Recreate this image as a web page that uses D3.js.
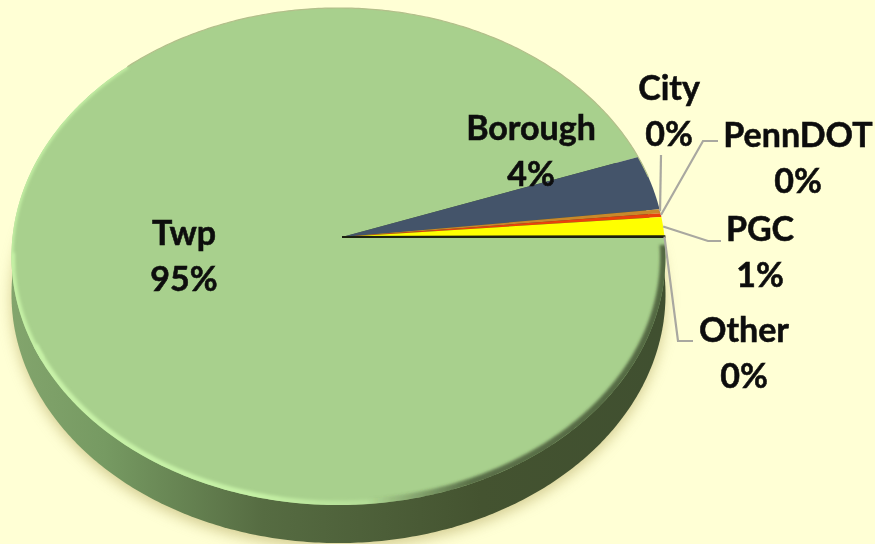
<!DOCTYPE html>
<html>
<head>
<meta charset="utf-8">
<script src="https://cdn.jsdelivr.net/npm/d3@7"></script>
<style>
  html, body { margin: 0; padding: 0; background: #ffffd5; overflow: hidden; }
  text { font-family: Lato, "Open Sans", sans-serif; font-weight: 700; font-size: 34px; fill: #0a0a0a; stroke: #0a0a0a; stroke-width: 0.5px; }
</style>
</head>
<body>
<script>
const categories = ['Twp', 'Borough', 'City', 'PennDOT', 'PGC', 'Other'];
const shares = [94.6, 3.6, 0.25, 0.25, 1.25, 0.05];
const shareLabels = ['95%', '4%', '0%', '0%', '1%', '0%'];
const colors = ['#a8d08d', '#44546a', '#c9892a', '#e8420c', '#ffff00', '#1c2010'];

const width = 875, height = 544;

// label centres and leader elbows, by category
const labelX = [184, 531, 669, 798, 760, 744];
const labelY = [245, 140, 100, 147, 241, 342];
const lineGap = 46;
const leaderStart = [null, null, [661, 155], [718, 141], [721, 241], [693, 341]];
const leaderElbow = [null, null, null, [703, 141], [708, 241], [678, 341]];

// the pie is seen in perspective, so the apex sits above the middle of the rim
const cx = 338.5, cy = 237, rimX = 326, rimY = 247, tilt = -0.0785, depth = 38;
const apex = [342, 237];

function rim(a) {
  const u = Math.sin(a), v = -Math.cos(a), w = 1 + tilt * v;
  return [cx + rimX * u / w, cy + rimY * v / w];
}

function sampled(a0, a1) {
  const n = Math.max(2, Math.ceil(Math.abs(a1 - a0) * 90));
  return d3.range(n + 1).map(i => rim(a0 + (a1 - a0) * i / n));
}

const svg = d3.select('body').append('svg')
  .attr('width', width)
  .attr('height', height)
  .style('display', 'block');

const defs = svg.append('defs');

const blur = (id, dev) => defs.append('filter')
  .attr('id', id)
  .attr('x', '-10%').attr('y', '-10%').attr('width', '120%').attr('height', '120%')
  .append('feGaussianBlur').attr('stdDeviation', dev);
blur('soft8', 7);
blur('soft2', 1.6);
blur('soft05', 0.6);
blur('soft03', 0.35);

const gradient = (id, stops) => defs.append('linearGradient')
  .attr('id', id)
  .attr('gradientUnits', 'userSpaceOnUse')
  .attr('x1', 0).attr('x2', width).attr('y1', 0).attr('y2', 0)
  .selectAll('stop').data(stops).join('stop')
  .attr('offset', d => d[0])
  .attr('stop-color', d => d[1])
  .attr('stop-opacity', d => d[2] === undefined ? 1 : d[2]);

gradient('sideFill', [[0, '#84a66e'], [0.12, '#769a62'], [0.3, '#566c42'], [0.55, '#445330'], [0.8, '#3f4f30'], [1, '#3f4f30']]);
gradient('bevel', [[0, '#c8f2a8'], [0.3, '#c4f0a4'], [0.42, '#bce69e', 0.6], [0.5, '#a8d08d', 0]]);
gradient('bevelDark', [[0.42, '#3f4f30', 0], [0.54, '#3f4f30', 0.75], [1, '#3f4f30', 0.85]]);

const line = d3.line();
const full = sampled(0, 2 * Math.PI);
const outline = line(full) + 'Z';

defs.append('clipPath').attr('id', 'faceClip')
  .append('path').attr('d', outline);

const pie = d3.pie().sort(null)
  .startAngle(Math.PI / 2)
  .endAngle(Math.PI / 2 + 2 * Math.PI);
const slices = pie(shares);

// body of the disc: the rim swept straight down by the depth
const sweep = g => g.attr('d', outline)
  .attr('transform', `translate(0,${depth})`);

svg.append('path').call(sweep)
  .attr('transform', `translate(0,${depth + 5})`)
  .attr('fill', '#b0a45c')
  .attr('opacity', 0.55)
  .attr('filter', 'url(#soft8)');

const side = svg.append('g').attr('fill', 'url(#sideFill)');
side.append('path').call(sweep);
side.append('rect')
  .attr('x', d3.min(full, d => d[0]) + 1)
  .attr('y', 270)
  .attr('width', d3.max(full, d => d[0]) - d3.min(full, d => d[0]) - 2)
  .attr('height', depth);

// top face
const face = svg.append('g');
face.selectAll('path.slice')
  .data(slices)
  .join('path')
  .attr('class', 'slice')
  .attr('fill', (d, i) => colors[i])
  .attr('stroke', (d, i) => i === 5 ? colors[i] : 'none')
  .attr('stroke-width', 2)
  .attr('d', d => line([apex, ...sampled(d.startAngle, d.endAngle)]) + 'Z');

// bevel along the lower rim, light on the left and dark on the right
svg.append('g').attr('clip-path', 'url(#faceClip)')
  .selectAll('path')
  .data([
    { from: 0.72, to: 1.36, stroke: 'url(#bevel)', w: 9 },
    { from: 1.34, to: 1.48, stroke: '#c4f0a4', w: 7 },
    { from: 1.46, to: 1.76, stroke: '#c4f0a4', w: 4 },
    { from: 0.51, to: 1.0, stroke: 'url(#bevelDark)', w: 11 }
  ])
  .join('path')
  .attr('d', d => line(sampled(Math.PI * d.from, Math.PI * d.to)))
  .attr('fill', 'none')
  .attr('stroke', d => d.stroke)
  .attr('stroke-width', d => d.w)
  .attr('filter', 'url(#soft2)');

svg.append('path')
  .attr('d', line(sampled(Math.PI * 1.76, Math.PI * 2.42)))
  .attr('fill', 'none')
  .attr('stroke', '#b3bf8a')
  .attr('stroke-width', 1.2)
  .attr('filter', 'url(#soft05)');

// leader lines end on the rim at each slice's mid angle
const leaders = slices.map((d, i) => {
  if (!leaderStart[i]) return null;
  const end = rim((d.startAngle + d.endAngle) / 2);
  return [leaderStart[i], ...(leaderElbow[i] ? [leaderElbow[i]] : []), end];
}).filter(Boolean);

svg.append('g')
  .selectAll('path')
  .data(leaders)
  .join('path')
  .attr('d', d => line(d))
  .attr('fill', 'none')
  .attr('stroke', '#a9a8a0')
  .attr('stroke-width', 2.2);

const labels = svg.append('g')
  .attr('text-anchor', 'middle')
  .attr('filter', 'url(#soft03)')
  .selectAll('g')
  .data(categories)
  .join('g')
  .attr('transform', (d, i) => `translate(${labelX[i]},${labelY[i]})`);
labels.append('text').text(d => d);
labels.append('text').attr('y', lineGap).text((d, i) => shareLabels[i]);
</script>
</body>
</html>
